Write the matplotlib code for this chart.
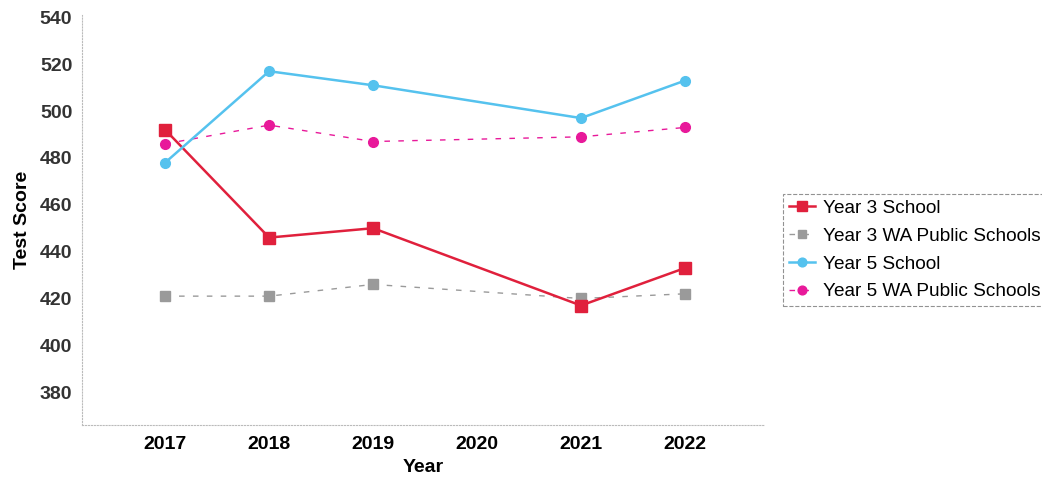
import matplotlib
matplotlib.use("Agg")
import matplotlib.pyplot as plt
import numpy as np

plt.rcParams['font.family'] = ['Liberation Sans', 'DejaVu Sans']

years = [2017, 2018, 2019, 2021, 2022]
tick_years = [2017, 2018, 2019, 2020, 2021, 2022]
y3_school = [492, 446, 450, 417, 433]
y3_wa = [421, 421, 426, 420, 422]
y5_school = [478, 517, 511, 497, 513]
y5_wa = [486, 494, 487, 489, 493]
y_ticks = [380, 400, 420, 440, 460, 480, 500, 520, 540]

fig = plt.figure(figsize=(10.42, 4.83), dpi=100)
ax = fig.add_axes([82/1042, 1-425/483, (765-82)/1042, (425-15)/483])

ax.plot(years, y3_school, color='#e0203c', lw=1.8, marker='s', ms=8, label='Year 3 School', zorder=4)
ax.plot(years, y3_wa, color='#9a9a9a', lw=1.0, ls=(0, (4, 6)), marker='s', ms=7, label='Year 3 WA Public Schools', zorder=3)
ax.plot(years, y5_school, color='#55c2ee', lw=1.8, marker='o', ms=7, label='Year 5 School', zorder=4)
ax.plot(years, y5_wa, color='#e8199a', lw=1.0, ls=(0, (4, 6)), marker='o', ms=7, label='Year 5 WA Public Schools', zorder=3)

ax.set_xlim(2016.2, 2022.77)
ax.set_ylim(366, 541)
ax.set_xticks(tick_years)
ax.set_xticklabels([str(y) for y in tick_years], fontsize=14, fontweight='bold')
ax.set_yticks(y_ticks)
ax.set_yticklabels([str(y) for y in y_ticks], fontsize=14, fontweight='bold', color='#333333')
ax.tick_params(axis='x', length=0, pad=8)
ax.tick_params(axis='y', length=0, pad=7)
ax.set_xlabel('Year', fontsize=14, fontweight='bold', labelpad=4)
ax.set_ylabel('Test Score', fontsize=14, fontweight='bold', labelpad=6)
for s in ['top', 'right']:
    ax.spines[s].set_visible(False)
for s in ['left', 'bottom']:
    ax.spines[s].set_color('#bbbbbb')
    ax.spines[s].set_linestyle(':')
    ax.spines[s].set_linewidth(0.8)

leg = fig.legend(loc='center left', bbox_to_anchor=(783/1042, 1-250/483), fontsize=13.7,
                 frameon=True, fancybox=False, edgecolor='#777777', handlelength=1.4,
                 handletextpad=0.4, borderpad=0.3, labelspacing=0.55, markerscale=0.9,
                 borderaxespad=0)
leg.get_frame().set_linestyle('--')
leg.get_frame().set_linewidth(0.8)

fig.savefig('out.png', dpi=100)
